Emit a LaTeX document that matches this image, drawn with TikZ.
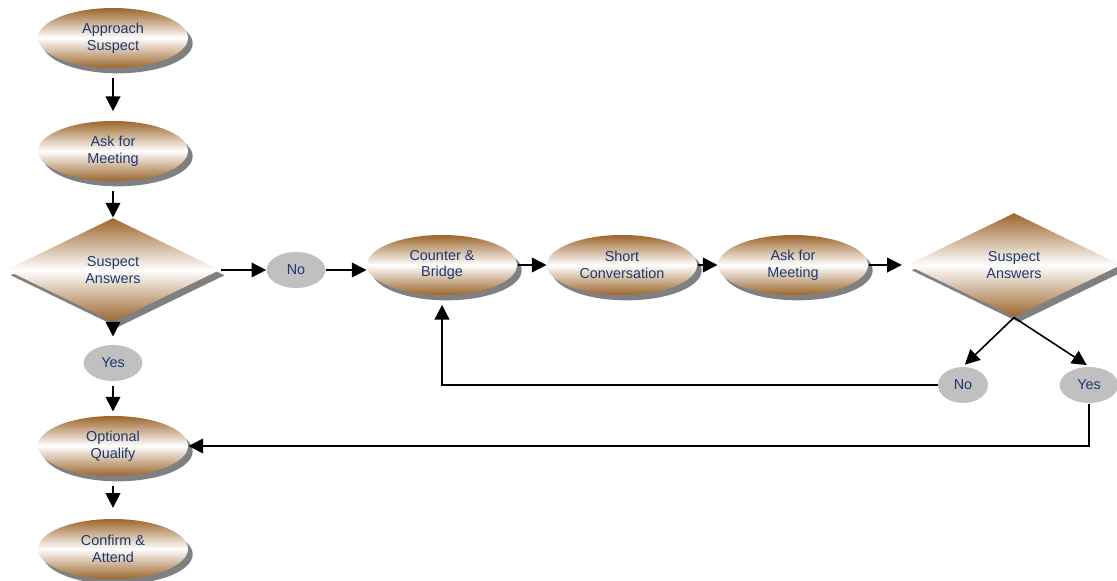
\documentclass[tikz,border=0pt]{standalone}
\usepackage{fontspec}
\setmainfont{Liberation Sans}
\usetikzlibrary{shapes.geometric,shadows,arrows.meta}

\definecolor{stepbrown}{RGB}{156,102,44}
\definecolor{steptext}{RGB}{28,58,112}
\definecolor{shadowgray}{RGB}{128,128,128}
\definecolor{replygray}{RGB}{192,192,192}

\tikzset{every picture/.style={line width=0.75pt}}
\tikzset{
  stepnode/.style={ellipse, inner sep=0pt, minimum width=112.5pt, minimum height=45pt,
    top color=stepbrown, bottom color=stepbrown, middle color=white,
    drop shadow={shadow xshift=3.5pt, shadow yshift=-4pt, fill=shadowgray, opacity=1},
    text=steptext, align=center, font=\fontsize{10.8}{12.5}\selectfont},
  asknode/.style={stepnode, diamond, aspect=2, minimum width=160.5pt, minimum height=78pt},
  replynode/.style={ellipse, inner sep=0pt, minimum width=44pt, minimum height=27pt,
    fill=replygray, text=steptext, font=\fontsize{10.8}{12.5}\selectfont},
  flow/.style={-{Triangle[width=11pt,length=11pt]}, line width=1.2pt},
}

\begin{document}
\begin{tikzpicture}[x=0.75pt,y=0.75pt,yscale=-1,xscale=1]
\useasboundingbox (0,0) rectangle (1117,581);

% left column
\node [stepnode] (approach) at (113,38) {Approach\\Suspect};
\node [stepnode] (meet1) at (113,151) {Ask for\\Meeting};
\node [asknode] (answer1) at (113,270) {Suspect\\Answers};
\node [replynode] (yes1) at (113,363) {Yes};
\node [stepnode] (qualify) at (113,446) {Optional\\Qualify};
\node [stepnode] (attend) at (113,549) {Confirm \&\\Attend};

% top row
\node [replynode] (no1) at (296,270) {No};
\node [stepnode] (bridge) at (442,265) {Counter \&\\Bridge};
\node [stepnode] (talk) at (622,265) {Short\\Conversation};
\node [stepnode] (meet2) at (793,265) {Ask for\\Meeting};
\node [asknode] (answer2) at (1014,265) {Suspect\\Answers};
\node [replynode, minimum width=37.5pt] (no2) at (963,385) {No};
\node [replynode] (yes2) at (1089,385) {Yes};

% connections
\draw [flow, shorten <=7pt, shorten >=7pt] (approach) -- (meet1);
\draw [flow, shorten <=7pt] (meet1) -- (answer1);
\draw [flow, shorten >=6pt] (answer1.south) -- (yes1);
\draw [flow, shorten <=3pt, shorten >=3pt] (yes1) -- (qualify);
\draw [flow, shorten <=7pt, shorten >=8pt] (qualify) -- (attend);
\draw [flow] (answer1.east) -- (no1.west);
\draw [flow] (no1.east) -- (no1.east -| bridge.west);
\draw [flow] (bridge) -- (talk);
\draw [flow] (talk) -- (meet2);
\draw [flow, shorten >=3.5pt] (meet2) -- (answer2.west);
\draw [flow, shorten >=2pt] (answer2.south) -- (no2.north);
\draw [flow, shorten >=2pt] (answer2.south) -- (yes2.north);
\draw [flow, shorten >=7pt] (no2.west) -| (bridge.south);
\draw [flow] (yes2.south) |- (qualify.east);

\end{tikzpicture}
\end{document}
